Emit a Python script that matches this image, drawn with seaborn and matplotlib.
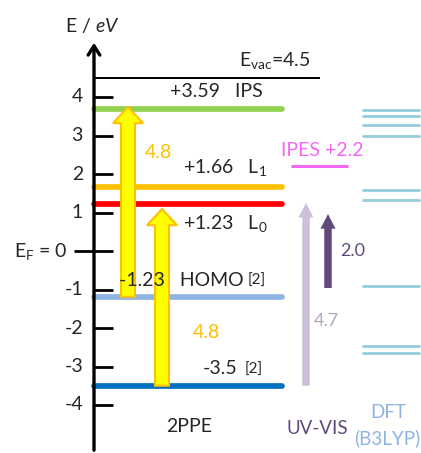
import numpy as np
import pandas as pd
import seaborn as sns
import matplotlib.pyplot as plt

# --- data (energies in eV) ---
ppe_names = ['IPS', 'L1', 'L0', 'HOMO', 'deep']
ppe_energy = [3.70, 1.66, 1.22, -1.19, -3.50]
ppe_colors = ['#92D050', '#FFC000', '#FF0000', '#8EB4E3', '#0070C0']
e_vac = 4.49
ipes_energy = 2.2
dft_energy = [3.66, 3.51, 3.27, 2.99, 1.58, 1.32, -0.91, -2.47, -2.65]
tick_values = [4, 3, 2, 1, 0, -1, -2, -3, -4]
tick_labels = ['4', '3', '2', '1', 'E$_\\mathrm{F}$ = 0', '-1', '-2', '-3', '-4']
# two-photon transitions (start, end) and UV-VIS transitions (start, end)
ppe_trans = [(-1.19, 3.74), (-3.50, 1.09)]
uv_trans = [(-3.50, 1.25), (-0.96, 0.96)]

sns.set_theme(style="white")
plt.rcParams['font.family'] = ['Lato', 'DejaVu Sans']
plt.rcParams['mathtext.fontset'] = 'custom'
plt.rcParams['mathtext.rm'] = 'Lato'
plt.rcParams['mathtext.it'] = 'Lato:italic'
FS = 14

fig = plt.figure(figsize=(4.21, 4.53), dpi=100)
ax = fig.add_axes([0, 0, 1, 1])
# x in pixels, y in eV (251 px = 0 eV, 38.5 px per eV)
ax.set_xlim(0, 421)
ax.set_ylim((251 - 453) / 38.5, 251 / 38.5)
ax.axis('off')

def E(px):
    return (251 - px) / 38.5

# level lines with seaborn
lv = pd.DataFrame({
    'x': [94, 282] * len(ppe_names),
    'E': np.repeat(ppe_energy, 2),
    'level': np.repeat(ppe_names, 2),
})
sns.lineplot(data=lv, x='x', y='E', hue='level', palette=dict(zip(ppe_names, ppe_colors)),
             estimator=None, units='level', lw=4.1, legend=False, ax=ax, zorder=2)

dft = pd.DataFrame({
    'x': [363, 419] * len(dft_energy),
    'E': np.repeat(dft_energy, 2),
    'lvl': np.repeat(np.arange(len(dft_energy)), 2),
})
sns.lineplot(data=dft, x='x', y='E', units='lvl', estimator=None, color='#93CDDD',
             lw=2, legend=False, ax=ax)

ax.hlines(e_vac, 94, 320, color='black', lw=1.4)
ax.hlines(ipes_energy, 291, 348, color='#F467F4', lw=2.2)

# energy axis
ax.annotate('', xy=(94, E(40)), xytext=(94, E(453)),
            arrowprops=dict(arrowstyle='->,head_length=0.55,head_width=0.35', lw=2.4, color='black'))
for v, lab in zip(tick_values, tick_labels):
    x0 = 74 if v == 0 else 94
    ax.hlines(v, x0, 113, color='black', lw=2)
    ax.text(83 if v != 0 else 68, v, lab, ha='right', va='center', fontsize=FS)
ax.text(92, E(25), 'E / $eV$', ha='center', va='center', fontsize=FS)

# 2PPE arrows
for xa, (a, b) in zip([128, 162], ppe_trans):
    ax.arrow(xa, a, 0, b - a, width=14, head_width=30, head_length=0.42,
             length_includes_head=True, fc='#FFFF00', ec='#FFC000', lw=1.5, zorder=3)
# UV-VIS arrows
for xa, (a, b), c in zip([306, 328], uv_trans, ['#CCC1DA', '#604A7B']):
    ax.arrow(xa, a, 0, b - a, width=7.5, head_width=15, head_length=0.38,
             length_includes_head=True, fc=c, ec='none', zorder=3)

# labels
ax.text(239, E(60), 'E$_\\mathrm{vac}$=4.5', ha='left', va='center', fontsize=FS)
ax.text(170, E(91), '+3.59   IPS', ha='left', va='center', fontsize=FS)
ax.text(145, E(153), '4.8', ha='left', va='center', fontsize=FS, color='#FFC000')
ax.text(183, E(168), '+1.66   L$_1$', ha='left', va='center', fontsize=FS)
ax.text(183, E(224), '+1.23   L$_0$', ha='left', va='center', fontsize=FS)
ax.text(119, E(280), '-1.23   HOMO', ha='left', va='center', fontsize=FS, zorder=5)
ax.text(248, E(281), '[2]', ha='left', va='center', fontsize=11)
ax.text(193, E(332), '4.8', ha='left', va='center', fontsize=FS, color='#FFC000')
ax.text(203, E(369), '-3.5', ha='left', va='center', fontsize=FS)
ax.text(245, E(370), '[2]', ha='left', va='center', fontsize=11)
ax.text(166, E(427), '2PPE', ha='left', va='center', fontsize=FS)
ax.text(281, E(150), 'IPES +2.2', ha='left', va='center', fontsize=FS, color='#F467F4')
ax.text(340, E(251), '2.0', ha='left', va='center', fontsize=13, color='#604A7B')
ax.text(314, E(321), '4.7', ha='left', va='center', fontsize=13, color='#B3A2C7')
ax.text(317, E(428), 'UV-VIS', ha='center', va='center', fontsize=13.5, color='#604A7B')
ax.text(370, E(413), 'DFT', ha='left', va='center', fontsize=13.5, color='#8DB4E2')
ax.text(420, E(438), '(B3LYP)', ha='right', va='center', fontsize=13.5, color='#8DB4E2')

fig.savefig('out.png', dpi=100)
